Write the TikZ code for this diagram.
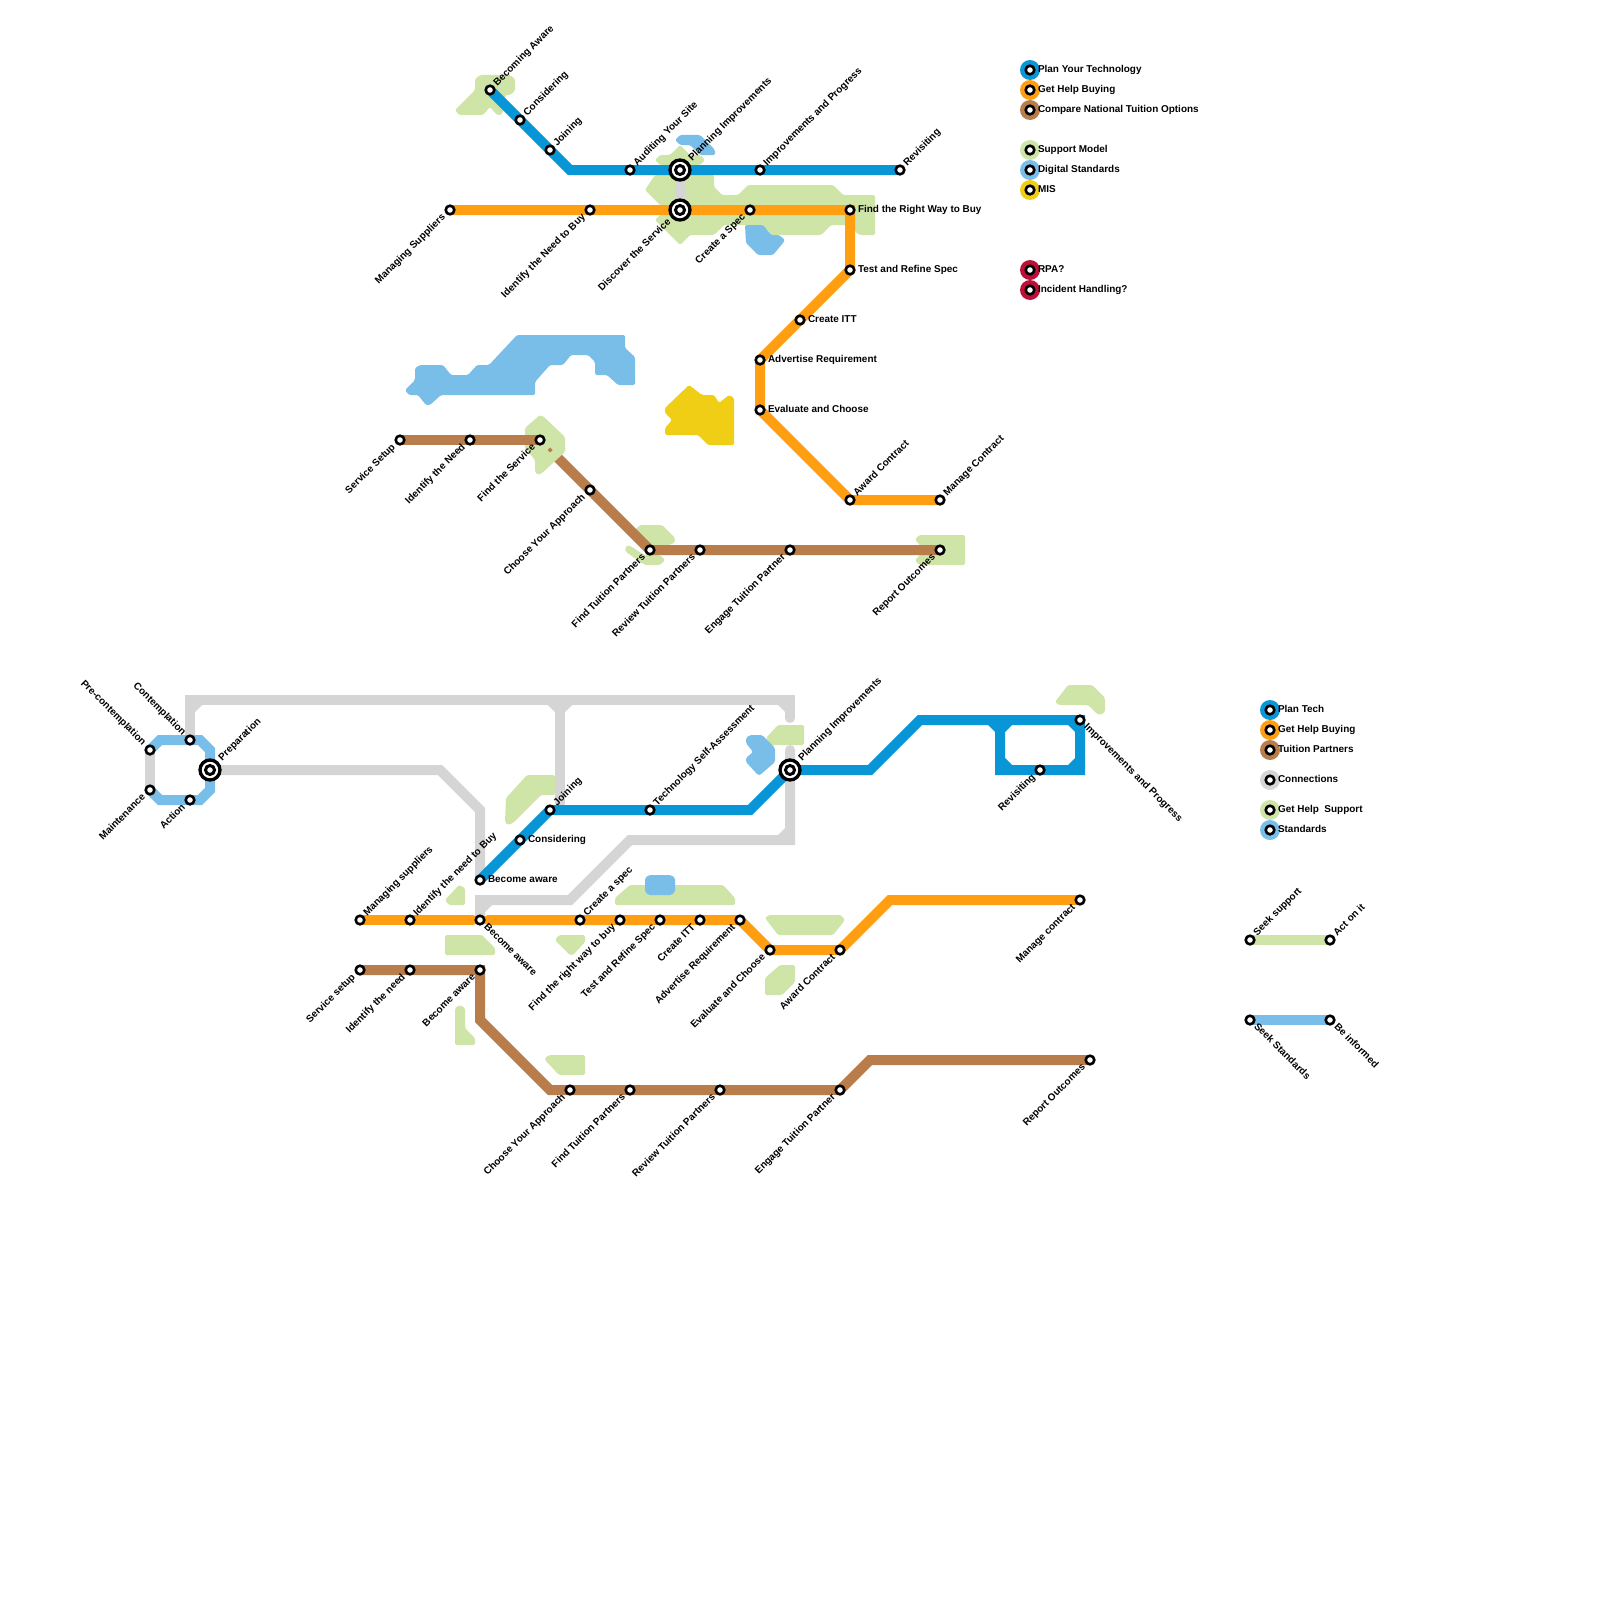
\documentclass[tikz,border=0pt]{standalone}
\usepackage{fontspec}
\setmainfont{Liberation Sans}
\definecolor{cblue}{HTML}{0896D7}
\definecolor{corange}{HTML}{FF9E10}
\definecolor{cbrown}{HTML}{B87D4B}
\definecolor{cgreen}{HTML}{CFE4A7}
\definecolor{clight}{HTML}{79BDE9}
\definecolor{cyellow}{HTML}{F0CE15}
\definecolor{cgray}{HTML}{D5D5D5}
\definecolor{cred}{HTML}{BD1038}
\tikzset{
  route/.style={line width=10pt,line cap=round,line join=miter,miter limit=4},
  stn/.style={circle,draw=black,fill=white,line width=2.6pt,minimum size=8.6pt,inner sep=0pt,outer sep=0pt},
  hubin/.style={circle,draw=black,fill=white,line width=3pt,minimum size=9pt,inner sep=0pt,outer sep=0pt},
  bigstn/.style={circle,draw=black,fill=white,line width=3.3pt,minimum size=20pt,inner sep=0pt,outer sep=0pt},
  lab/.style={font=\fontsize{9.95}{10}\bfseries\selectfont,inner sep=0pt,outer sep=0pt,text height=7pt,text depth=2pt,text=black},
  legdot/.style={circle,minimum size=20pt,inner sep=0pt,outer sep=0pt},
  blob/.style={rounded corners=1.5pt}
}
\newcommand\StopNE[2]{\node[stn] (n#1) at (#1) {}; \node[lab,rotate=45,anchor=west] (t#1) at ([shift={(5.5,-5.5)}]#1) {#2};}
\newcommand\StopSW[2]{\node[stn] (n#1) at (#1) {}; \node[lab,rotate=45,anchor=east] (t#1) at ([shift={(-6,6)}]#1) {#2};}
\newcommand\StopSE[2]{\node[stn] (n#1) at (#1) {}; \node[lab,rotate=-45,anchor=west] (t#1) at ([shift={(5.5,5.5)}]#1) {#2};}
\newcommand\StopNW[2]{\node[stn] (n#1) at (#1) {}; \node[lab,rotate=-45,anchor=east] (t#1) at ([shift={(-6,-6)}]#1) {#2};}
\newcommand\StopE[2]{\node[stn] (n#1) at (#1) {}; \node[lab,anchor=west] (t#1) at ([shift={(8,0)}]#1) {#2};}
\newcommand\Hub[1]{\node[bigstn] (h#1) at (#1) {}; \node[hubin] (n#1) at (#1) {};}
\newcommand\Leg[5]{\coordinate (#1) at (#3,#4); \node[legdot,fill=#2] (d#1) at (#1) {}; \node[stn] (n#1) at (#1) {}; \node[lab,anchor=west] (t#1) at ([shift={(8,0)}]#1) {#5};}
\begin{document}
\begin{tikzpicture}[x=1pt,y=-1pt]
\useasboundingbox (0,0) rectangle (1600,1600);
% ---------- positions: upper map
\coordinate (ba) at (490,90); \coordinate (bb) at (520,120); \coordinate (bc) at (550,150);
\coordinate (bd) at (570,170); \coordinate (be) at (630,170); \coordinate (bf) at (680,170);
\coordinate (bg) at (760,170); \coordinate (bh) at (900,170);
\coordinate (oa) at (450,210); \coordinate (ob) at (590,210); \coordinate (oc) at (680,210);
\coordinate (od) at (750,210); \coordinate (oe) at (850,210); \coordinate (of) at (850,270);
\coordinate (og) at (800,320); \coordinate (oh) at (760,360); \coordinate (oi) at (760,410);
\coordinate (oj) at (850,500); \coordinate (ok) at (940,500);
\coordinate (ra) at (400,440); \coordinate (rb) at (470,440); \coordinate (rc) at (540,440);
\coordinate (rs) at (550,450); \coordinate (rd) at (590,490); \coordinate (re) at (650,550);
\coordinate (rf) at (700,550); \coordinate (rg) at (790,550); \coordinate (rh) at (940,550);
% ---------- positions: lower map
\coordinate (pa) at (150,750); \coordinate (pb) at (190,740); \coordinate (pc) at (210,770);
\coordinate (pd) at (150,790); \coordinate (pe) at (190,800);
\coordinate (p1) at (160,740); \coordinate (p2) at (200,740); \coordinate (p3) at (210,750);
\coordinate (p4) at (210,790); \coordinate (p5) at (200,800); \coordinate (p6) at (160,800);
\coordinate (g1) at (190,700); \coordinate (g2) at (560,700); \coordinate (g3) at (790,700);
\coordinate (g4) at (790,718); \coordinate (g5) at (560,803);
\coordinate (g6) at (440,770); \coordinate (g7) at (480,810);
\coordinate (g8) at (790,750); \coordinate (g9) at (790,840); \coordinate (g10) at (630,840);
\coordinate (g11) at (570,900); \coordinate (g12) at (480,900);
\coordinate (ca) at (480,880); \coordinate (cb) at (520,840); \coordinate (cc) at (550,810);
\coordinate (cd) at (650,810); \coordinate (ce) at (750,810); \coordinate (cf) at (790,770);
\coordinate (cg) at (870,770); \coordinate (ch) at (920,720); \coordinate (ci) at (1000,720);
\coordinate (cj) at (1080,720); \coordinate (ck) at (1080,770); \coordinate (cl) at (1040,770);
\coordinate (cm) at (1000,770);
\coordinate (ya) at (360,920); \coordinate (yb) at (410,920); \coordinate (yc) at (480,920);
\coordinate (y1) at (473,920); \coordinate (y2) at (488,920);
\coordinate (yd) at (580,920); \coordinate (ye) at (620,920); \coordinate (yf) at (660,920);
\coordinate (yg) at (700,920); \coordinate (yh) at (740,920); \coordinate (yi) at (770,950);
\coordinate (yj) at (840,950); \coordinate (yk) at (890,900); \coordinate (yl) at (1080,900);
\coordinate (ta) at (360,970); \coordinate (tb) at (410,970); \coordinate (tc) at (480,970);
\coordinate (td) at (480,1020); \coordinate (te) at (550,1090); \coordinate (tf) at (570,1090);
\coordinate (tg) at (630,1090); \coordinate (th) at (720,1090); \coordinate (ti) at (840,1090);
\coordinate (tj) at (870,1060); \coordinate (tk) at (1090,1060);
\coordinate (sa) at (1250,940); \coordinate (sb) at (1330,940);
\coordinate (sc) at (1250,1020); \coordinate (sd) at (1330,1020);
% ---------- hidden start of the brown line
\draw[route,cbrown,line cap=butt] (rs) -- (rd);
% ---------- light blue areas under the green
\fill[clight,blob] (680,135)--(700,135)--(715,150)--(715,155)--(700,155)--(690,145)--(680,145)--(675,140)--cycle;
% ---------- green areas
\fill[cgreen,blob] (480,75)--(510,75)--(515,79)--(515,91)--(510,95)--(505,95)--(505,108)--(501,115)--(497,115)--(490,107)--(483,115)--(459,115)--(455,110)--(475,90)--(475,79)--cycle;
\fill[cgreen,blob] (660,155)--(670,155)--(680,145)--(690,155)--(700,155)--(705,160)--(700,165)--(660,165)--(655,160)--cycle;
\fill[cgreen,blob] (655,175)--(714,175)--(714,187)--(722,195)--(738,195)--(748,185)--(833,185)--(843,195)--(875,195)--(875,235)--(860,235)--(855,232)--(855,225)--(831,225)--(821,235)--(771,235)--(763,225)--(724,225)--(714,235)--(690,235)--(680,245)--(667,232)--(655,220)--(660,215)--(667,212)--(645,190)--cycle;
\fill[cgreen,blob] (525,428)--(540,415)--(544,417)--(565,437)--(565,452)--(542,473)--(538,475)--(535,472)--(535,460)--(525,448)--cycle;
\fill[cgreen,blob] (635,530)--(640,525)--(662,525)--(675,538)--(675,542)--(670,545)--(650,545)--(635,532)--cycle;
\fill[cgreen,blob] (628,545)--(632,547)--(644,555)--(660,555)--(665,560)--(660,565)--(645,565)--(626,552)--(625,548)--cycle;
\fill[cgreen,blob] (919,535)--(965,535)--(965,565)--(919,565)--(915,560)--(920,555)--(920,545)--(915,540)--cycle;
\fill[cgreen,blob] (766,738)--(778,725)--(804,725)--(804,745)--(770,745)--cycle;
\fill[cgreen,blob] (1055,702)--(1068,685)--(1092,685)--(1105,698)--(1105,712)--(1100,715)--(1096,713)--(1088,705)--(1059,705)--cycle;
\fill[cgreen,blob] (506,798)--(527,775)--(555,775)--(555,795)--(541,795)--(513,823)--(508,825)--(505,822)--cycle;
\fill[cgreen,blob] (445,900)--(459,885)--(465,888)--(465,905)--(449,905)--cycle;
\fill[cgreen,blob] (445,935)--(482,935)--(495,948)--(495,955)--(445,955)--cycle;
\fill[cgreen,blob] (555,940)--(559,935)--(585,935)--(585,942)--(573,955)--(570,955)--cycle;
\fill[cgreen,blob] (615,898)--(630,885)--(723,885)--(735,898)--(735,905)--(615,905)--cycle;
\fill[cgreen,blob] (765,918)--(769,915)--(841,915)--(845,920)--(833,935)--(778,935)--cycle;
\fill[cgreen,blob] (765,978)--(780,965)--(795,965)--(795,982)--(782,995)--(765,995)--cycle;
\fill[cgreen,blob] (455,1008)--(460,1005)--(465,1008)--(465,1028)--(475,1038)--(475,1045)--(455,1045)--cycle;
\fill[cgreen,blob] (545,1058)--(549,1055)--(585,1055)--(585,1075)--(559,1075)--(545,1060)--cycle;
% ---------- light blue areas
\fill[clight,blob] (745,225)--(763,225)--(771,235)--(779,235)--(785,240)--(783,243)--(773,255)--(758,255)--(746,243)--cycle;
\fill[clight,blob] (420,365)--(443,365)--(451,375)--(468,375)--(477,365)--(489,365)--(517,335)--(625,335)--(625,348)--(635,357)--(635,385)--(618,385)--(607,375)--(595,375)--(595,362)--(588,355)--(571,355)--(563,365)--(550,365)--(535,382)--(535,395)--(441,395)--(430,405)--(426,405)--(418,395)--(409,395)--(405,390)--(415,380)--(415,368)--cycle;
\fill[clight,blob] (746,738)--(750,735)--(762,735)--(775,748)--(775,762)--(760,775)--(758,775)--(746,762)--(746,758)--(753,752)--(746,743)--cycle;
\fill[clight,blob] (645,878)--(649,875)--(671,875)--(675,878)--(675,892)--(671,895)--(649,895)--(645,892)--cycle;
% ---------- yellow area
\fill[cyellow,blob] (689,385)--(702,395)--(714,395)--(719,403)--(729,395)--(734,398)--(734,445)--(708,445)--(698,435)--(665,435)--(665,428)--(672,420)--(665,413)--(665,408)--cycle;
% ---------- connections
\draw[route,cgray] (bf) -- (oc);
\draw[route,cgray] (pa) -- (pd);
\draw[route,cgray] (pb) -- (g1) -- (g2) -- (g3) -- (g4);
\draw[route,cgray] (g2) -- (g5);
\draw[route,cgray] (pc) -- (g6) -- (g7) -- (ca);
\draw[route,cgray] (g8) -- (g9) -- (g10) -- (g11) -- (g12) -- (yc);
\fill[cgray] (195,705)--(202,705)--(195,712)--cycle;
\fill[cgray] (555,705)--(548,705)--(555,712)--cycle;
\fill[cgray] (565,705)--(572,705)--(565,712)--cycle;
\fill[cgray] (785,705)--(778,705)--(785,712)--cycle;
\fill[cgray] (785,835)--(785,828)--(778,835)--cycle;
\fill[cgray] (485,905)--(492,905)--(485,912)--cycle;
% ---------- light blue lines
\draw[route,clight] (pa) -- (p1) -- (pb) -- (p2) -- (p3) -- (pc) -- (p4) -- (p5) -- (pe) -- (p6) -- (pd);
\draw[route,clight] (sc) -- (sd);
\draw[route,cgreen] (sa) -- (sb);
% ---------- plan technology lines
\draw[route,cblue] (ba) -- (bb) -- (bc) -- (bd) -- (be) -- (bf) -- (bg) -- (bh);
\draw[route,cblue] (ca) -- (cb) -- (cc) -- (cd) -- (ce) -- (cf) -- (cg) -- (ch) -- (ci) -- (cj) -- (ck) -- (cl) -- (cm) -- (ci);
\fill[cblue] (995,725)--(988,725)--(995,732)--cycle;
\fill[cblue] (1005,725)--(1012,725)--(1005,732)--cycle;
\fill[cblue] (1005,765)--(1005,758)--(1012,765)--cycle;
\fill[cblue] (1075,765)--(1075,758)--(1068,765)--cycle;
\fill[cblue] (1075,725)--(1068,725)--(1075,732)--cycle;
% ---------- buying lines
\draw[route,corange] (oa) -- (ob) -- (oc) -- (od) -- (oe) -- (of) -- (og) -- (oh) -- (oi) -- (oj) -- (ok);
\draw[route,corange] (ya) -- (yb) -- (y1);
\draw[route,corange] (y2) -- (yd) -- (ye) -- (yf) -- (yg) -- (yh) -- (yi) -- (yj) -- (yk) -- (yl);
% ---------- tuition lines
\draw[route,cbrown] (ra) -- (rb) -- (rc);
\draw[route,cbrown] (rd) -- (re) -- (rf) -- (rg) -- (rh);
\draw[route,cbrown] (ta) -- (tb) -- (tc) -- (td) -- (te) -- (tf) -- (tg) -- (th) -- (ti) -- (tj) -- (tk);
\fill[cbrown] (550,447.5)--(552.5,450)--(550,452.5)--(547.5,450)--cycle;
% ---------- hubs
\Hub{bf} \Hub{oc} \Hub{pc} \Hub{cf}
% ---------- stations
\StopNE{ba}{Becoming Aware}
\StopNE{bb}{Considering}
\StopNE{bc}{Joining}
\StopNE{be}{Auditing Your Site}
\node[lab,rotate=45,anchor=west] (tbf) at ([shift={(10.5,-10.5)}]bf) {Planning Improvements};
\StopNE{bg}{Improvements and Progress}
\StopNE{bh}{Revisiting}
\StopSW{oa}{Managing Suppliers}
\StopSW{ob}{Identify the Need to Buy}
\node[lab,rotate=45,anchor=east] (toc) at ([shift={(-10.5,10.5)}]oc) {Discover the Service};
\StopSW{od}{Create a Spec}
\StopE{oe}{Find the Right Way to Buy}
\StopE{of}{Test and Refine Spec}
\StopE{og}{Create ITT}
\StopE{oh}{Advertise Requirement}
\StopE{oi}{Evaluate and Choose}
\StopNE{oj}{Award Contract}
\StopNE{ok}{Manage Contract}
\StopSW{ra}{Service Setup}
\StopSW{rb}{Identify the Need}
\StopSW{rc}{Find the Service}
\StopSW{rd}{Choose Your Approach}
\StopSW{re}{Find Tuition Partners}
\StopSW{rf}{Review Tuition Partners}
\StopSW{rg}{Engage Tuition Partner}
\StopSW{rh}{Report Outcomes}
\StopNW{pa}{Pre-contemplation}
\StopNW{pb}{Contemplation}
\node[lab,rotate=45,anchor=west] (tpc) at ([shift={(10.5,-10.5)}]pc) {Preparation};
\StopSW{pd}{Maintenance}
\StopSW{pe}{Action}
\StopE{ca}{Become aware}
\StopE{cb}{Considering}
\StopNE{cc}{Joining}
\StopNE{cd}{Technology Self-Assessment}
\node[lab,rotate=45,anchor=west] (tcf) at ([shift={(10.5,-10.5)}]cf) {Planning Improvements};
\StopSE{cj}{Improvements and Progress}
\StopSW{cl}{Revisiting}
\StopNE{ya}{Managing suppliers}
\StopNE{yb}{Identify the need to Buy}
\StopSE{yc}{Become aware}
\StopNE{yd}{Create a spec}
\StopSW{ye}{Find the right way to buy}
\StopSW{yf}{Test and Refine Spec}
\StopSW{yg}{Create ITT}
\StopSW{yh}{Advertise Requirement}
\StopSW{yi}{Evaluate and Choose}
\StopSW{yj}{Award Contract}
\StopSW{yl}{Manage contract}
\StopSW{ta}{Service setup}
\StopSW{tb}{Identify the need}
\StopSW{tc}{Become aware}
\StopSW{tf}{Choose Your Approach}
\StopSW{tg}{Find Tuition Partners}
\StopSW{th}{Review Tuition Partners}
\StopSW{ti}{Engage Tuition Partner}
\StopSW{tk}{Report Outcomes}
\StopNE{sa}{Seek support}
\StopNE{sb}{Act on it}
\StopSE{sc}{Seek Standards}
\StopSE{sd}{Be informed}
% ---------- legends
\Leg{la}{cblue}{1030}{70}{Plan Your Technology}
\Leg{lb}{corange}{1030}{90}{Get Help Buying}
\Leg{lc}{cbrown}{1030}{110}{Compare National Tuition Options}
\Leg{ld}{cgreen}{1030}{150}{Support Model}
\Leg{le}{clight}{1030}{170}{Digital Standards}
\Leg{lf}{cyellow}{1030}{190}{MIS}
\Leg{lg}{cred}{1030}{270}{RPA?}
\Leg{lh}{cred}{1030}{290}{Incident Handling?}
\Leg{li}{cblue}{1270}{710}{Plan Tech}
\Leg{lj}{corange}{1270}{730}{Get Help Buying}
\Leg{lk}{cbrown}{1270}{750}{Tuition Partners}
\Leg{ll}{cgray}{1270}{780}{Connections}
\Leg{lm}{cgreen}{1270}{810}{Get Help\ \ Support}
\Leg{ln}{clight}{1270}{830}{Standards}
\end{tikzpicture}
\end{document}
